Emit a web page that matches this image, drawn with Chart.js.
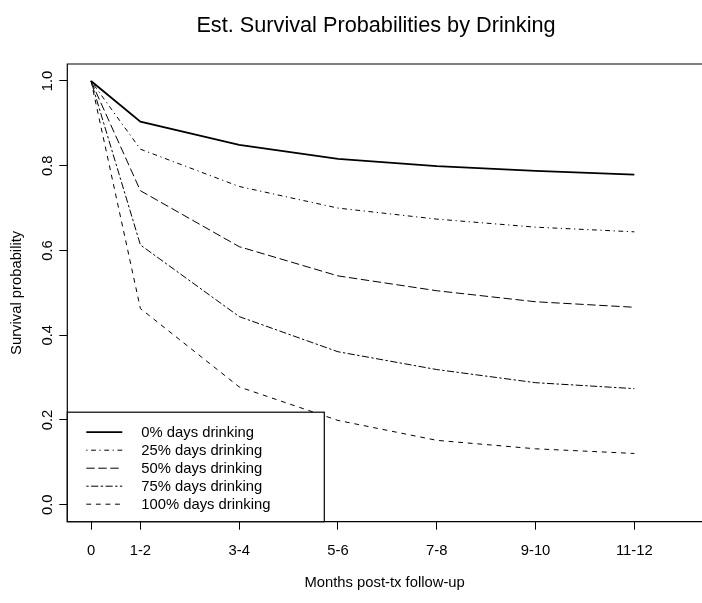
<!DOCTYPE html>
<html>
<head>
<meta charset="utf-8">
<script src="https://cdn.jsdelivr.net/npm/chart.js@4.4.1/dist/chart.umd.min.js"></script>
<style>
  html, body { margin: 0; padding: 0; background: #fff; }
  canvas { display: block; }
</style>
</head>
<body>
<canvas id="survChart" width="702" height="603"></canvas>
<script>
// follow-up periods and where they sit on the month axis
const monthLabels = ['0', '1-2', '3-4', '5-6', '7-8', '9-10', '11-12'];
const monthPos = [0, 1, 3, 5, 7, 9, 11];

// estimated survival by share of days drinking
const surv0 = [1, 0.904, 0.849, 0.816, 0.799, 0.788, 0.779];
const surv25 = [1, 0.839, 0.751, 0.700, 0.674, 0.655, 0.644];
const surv50 = [1, 0.741, 0.609, 0.540, 0.505, 0.479, 0.466];
const surv75 = [1, 0.613, 0.444, 0.361, 0.319, 0.288, 0.274];
const surv100 = [1, 0.463, 0.278, 0.199, 0.152, 0.132, 0.121];

const seriesNames = ['0% days drinking', '25% days drinking', '50% days drinking', '75% days drinking', '100% days drinking'];
const yTicks = [0, 0.2, 0.4, 0.6, 0.8, 1.0];

const FONT = "'Liberation Sans', Arial, Helvetica, sans-serif";

function toPoints(vals) {
    return monthPos.map((x, i) => ({ x: x, y: vals[i] }));
}

// R style line types: solid, dotdash, longdash, twodash, dashed
const dashes = [[], [1.2, 3.6, 4.8, 3.6], [8.4, 3.6], [2.4, 2.4, 7.2, 2.4], [4.8, 4.8]];
const widths = [1.8, 1, 1, 1, 1];

const datasets = [surv0, surv25, surv50, surv75, surv100].map((vals, i) => ({
    label: seriesNames[i],
    data: toPoints(vals),
    borderColor: '#000',
    borderWidth: widths[i],
    borderDash: dashes[i],
    pointRadius: 0,
    tension: 0,
    fill: false
}));

const framePlugin = {
    id: 'frame',
    afterDatasetsDraw(chart) {
        const { ctx, chartArea: a } = chart;
        // plot box runs off the right edge of the canvas, so no right side
        ctx.save();
        ctx.strokeStyle = '#000';
        ctx.lineWidth = 1.2;
        ctx.setLineDash([]);
        ctx.beginPath();
        ctx.moveTo(a.right + 5, a.top);
        ctx.lineTo(a.left, a.top);
        ctx.lineTo(a.left, a.bottom);
        ctx.lineTo(a.right + 5, a.bottom);
        ctx.stroke();
        ctx.restore();
    },
    afterDraw(chart) {
        const { ctx, chartArea: a } = chart;
        ctx.save();
        // main title
        ctx.fillStyle = '#000';
        ctx.font = '21.7px ' + FONT;
        ctx.textAlign = 'center';
        ctx.textBaseline = 'middle';
        ctx.fillText('Est. Survival Probabilities by Drinking', 376, 26);

        // legend box in the bottom-left corner
        const items = chart.data.datasets;
        const rowH = 18;
        const boxW = 257;
        const boxH = 109.5;
        const bx = a.left, by = a.bottom - boxH;
        ctx.fillStyle = '#fff';
        ctx.fillRect(bx, by, boxW, boxH);
        ctx.strokeStyle = '#000';
        ctx.lineWidth = 1.2;
        ctx.strokeRect(bx, by, boxW, boxH);

        ctx.font = '14.8px ' + FONT;
        ctx.textAlign = 'left';
        items.forEach((ds, i) => {
            const cy = by + 20 + i * rowH;
            ctx.beginPath();
            ctx.setLineDash(ds.borderDash);
            ctx.lineWidth = ds.borderWidth;
            ctx.strokeStyle = ds.borderColor;
            ctx.moveTo(bx + 19, cy);
            ctx.lineTo(bx + 55, cy);
            ctx.stroke();
            ctx.setLineDash([]);
            ctx.fillStyle = '#000';
            ctx.fillText(ds.label, bx + 74, cy + 1);
        });
        ctx.restore();
    }
};

new Chart(document.getElementById('survChart'), {
    type: 'line',
    data: { datasets: datasets },
    options: {
        responsive: false,
        animation: false,
        devicePixelRatio: 1,
        layout: { padding: { top: 64, right: 0, bottom: 0, left: 0 } },
        plugins: {
            legend: { display: false },
            tooltip: { enabled: false },
            title: { display: false }
        },
        scales: {
            x: {
                type: 'linear',
                min: -0.48,
                max: 12.37,
                afterBuildTicks: (scale) => {
                    scale.ticks = monthPos.map(v => ({ value: v }));
                },
                afterFit: (scale) => { scale.height = 81.3; },
                ticks: {
                    autoSkip: false,
                    maxRotation: 0,
                    padding: 12,
                    color: '#000',
                    font: { family: FONT, size: 14.8 },
                    callback: (v, i) => monthLabels[i]
                },
                grid: {
                    drawOnChartArea: false,
                    drawTicks: true,
                    tickLength: 8,
                    color: '#000',
                    lineWidth: 1
                },
                border: { display: false },
                title: {
                    display: true,
                    text: 'Months post-tx follow-up',
                    color: '#000',
                    font: { family: FONT, size: 14.8 },
                    padding: { top: 0, bottom: 11 }
                }
            },
            y: {
                type: 'linear',
                min: -0.04,
                max: 1.04,
                afterBuildTicks: (scale) => {
                    scale.ticks = yTicks.map(v => ({ value: v }));
                },
                afterFit: (scale) => { scale.width = 67.3; },
                ticks: {
                    minRotation: 90,
                    maxRotation: 90,
                    crossAlign: 'center',
                    padding: 1,
                    color: '#000',
                    font: { family: FONT, size: 14.8 },
                    callback: (v) => v.toFixed(1)
                },
                grid: {
                    drawOnChartArea: false,
                    drawTicks: true,
                    tickLength: 8,
                    color: '#000',
                    lineWidth: 1
                },
                border: { display: false },
                title: {
                    display: true,
                    text: 'Survival probability',
                    color: '#000',
                    font: { family: FONT, size: 14.8 },
                    padding: { top: 8, bottom: 0 }
                }
            }
        }
    },
    plugins: [framePlugin]
});
</script>
</body>
</html>
